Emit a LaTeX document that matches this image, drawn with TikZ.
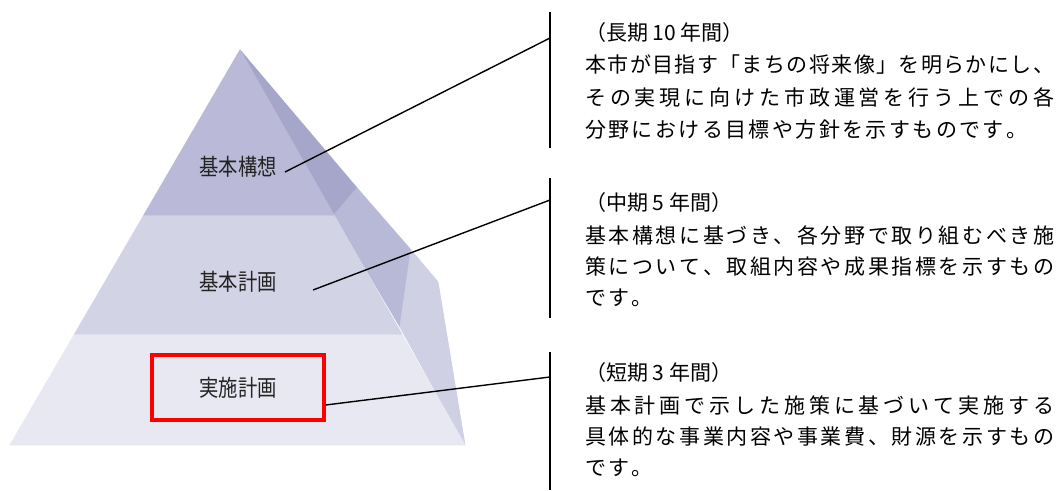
\documentclass[tikz,border=0pt]{standalone}
\usepackage{fontspec}
\newfontfamily\jp{Noto Sans CJK JP}
\newfontfamily\jpnarrow[FakeStretch=0.84]{Noto Sans CJK JP}
\definecolor{pyrA}{RGB}{186,186,216}
\definecolor{pyrB}{RGB}{211,211,230}
\definecolor{pyrC}{RGB}{232,232,242}
\definecolor{sideA}{RGB}{166,166,202}
\definecolor{sideB}{RGB}{184,184,215}
\definecolor{sideC}{RGB}{208,208,228}
\definecolor{labelgray}{RGB}{35,35,35}
\newcommand\jfill{\hskip 2.4pt plus 1fil minus 2.4pt}
\def\jlfirst#1{#1\jlrest}
\def\jlrest#1{\ifx\relax#1\else\jfill#1\expandafter\jlrest\fi}
\newcommand\jj[1]{\hbox to 469pt{\jlfirst#1\relax}}
\newcommand\jn[1]{\hbox{\jlfirst#1\relax}}
\tikzset{
  layerlabel/.style={font=\jpnarrow\fontsize{23pt}{23pt}\selectfont, text=labelgray, inner sep=0pt},
  desc/.style={font=\jp\fontsize{21pt}{21pt}\selectfont, anchor=west, inner sep=0pt},
  leader/.style={draw=black, line width=1.4pt},
  bar/.style={draw=black, line width=1.4pt},
  redbox/.style={draw=red, line width=3.5pt, minimum width=172pt, minimum height=65pt, inner sep=0pt},
  face/.style={fill=#1, draw=#1, line width=0.8pt, line join=round}
}
\begin{document}
\begin{tikzpicture}[x=1pt,y=-1pt]
\useasboundingbox (0,0) rectangle (1060,490);
% pyramid side faces
\path[face=sideA] (240,50) -- (357,188) -- (334,215) -- cycle;
\path[face=sideB] (334,215) -- (357,188) -- (411,250) -- (400,327) -- cycle;
\path[face=sideC] (411,250) -- (438,282) -- (465,445) -- (400,327) -- cycle;
% pyramid front bands
\path[face=pyrC] (74.6,334) -- (10,445) -- (465,445) -- (401.8,334) -- cycle;
\path[face=pyrB] (143.9,215) -- (74.6,334) -- (401.8,334) -- (334,215) -- cycle;
\path[face=pyrA] (240,50) -- (143.9,215) -- (334,215) -- cycle;
% labels
\node[layerlabel] (k1) at (238,167) {基本構想};
\node[layerlabel] (k2) at (238,282) {基本計画};
\node[redbox] (box) at (238,387.5) {};
\node[layerlabel] (k3) at (238,388) {実施計画};
% bars
\coordinate (b1t) at (550,12);  \coordinate (b1b) at (550,148);
\coordinate (b2t) at (550,178); \coordinate (b2b) at (550,318);
\coordinate (b3t) at (550,352); \coordinate (b3b) at (550,490);
\draw[bar] (b1t) -- (b1b);
\draw[bar] (b2t) -- (b2b);
\draw[bar] (b3t) -- (b3b);
% leaders
\coordinate (s1) at (285,172); \coordinate (e1) at (550,38);
\coordinate (s2) at (313,290); \coordinate (e2) at (550,200);
\coordinate (s3) at ([yshift=-17.5pt]box.east); \coordinate (e3) at (550,377);
\draw[leader] (s1) -- (e1);
\draw[leader] (s2) -- (e2);
\draw[leader] (s3) -- (e3);
% block 1
\node[desc] (t1a) at (585,33) {（長期 10 年間）};
\node[desc] (t1b) at (585,65) {\jj{本市が目指す「まちの将来像」を明らかにし、}};
\node[desc] (t1c) at (585,97) {\jj{その実現に向けた市政運営を行う上での各}};
\node[desc] (t1d) at (585,130) {\jn{分野における目標や方針を示すものです。}};
% block 2
\node[desc] (t2a) at (585,203) {（中期 5 年間）};
\node[desc] (t2b) at (585,235) {\jj{基本構想に基づき、各分野で取り組むべき施}};
\node[desc] (t2c) at (585,267) {\jj{策について、取組内容や成果指標を示すもの}};
\node[desc] (t2d) at (585,298) {\jn{です。}};
% block 3
\node[desc] (t3a) at (585,373) {（短期 3 年間）};
\node[desc] (t3b) at (585,405) {\jj{基本計画で示した施策に基づいて実施する}};
\node[desc] (t3c) at (585,437) {\jj{具体的な事業内容や事業費、財源を示すもの}};
\node[desc] (t3d) at (585,468) {\jn{です。}};
\end{tikzpicture}
\end{document}
